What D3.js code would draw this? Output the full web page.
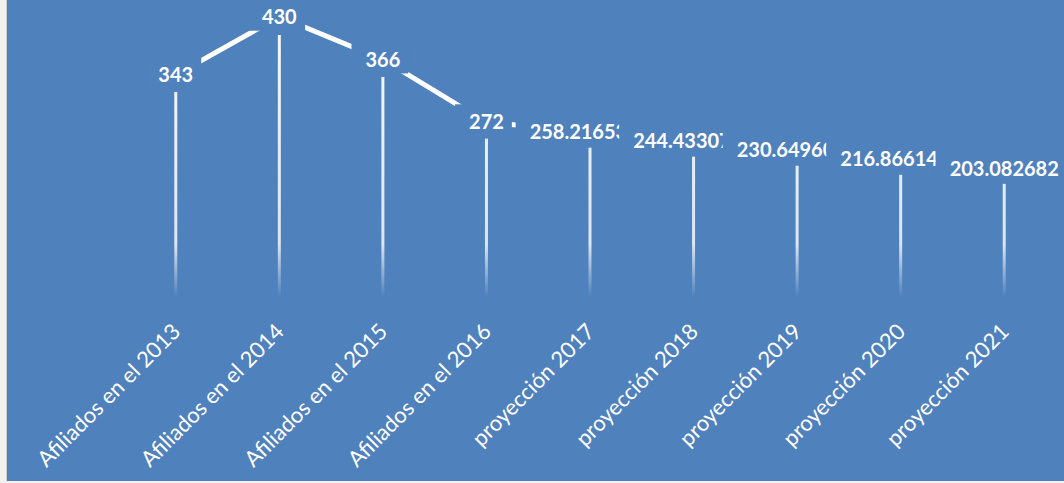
<!DOCTYPE html>
<html>
<head>
<meta charset="utf-8">
<script src="https://cdn.jsdelivr.net/npm/d3@7"></script>
<style>
  body { margin: 0; background: #f2f2f2; }
  svg { display: block; }
</style>
</head>
<body>
<div class="canvas"></div>
<script>
// data
const categories = [
  'Afiliados en el 2013', 'Afiliados en el 2014', 'Afiliados en el 2015', 'Afiliados en el 2016',
  'proyección 2017', 'proyección 2018', 'proyección 2019', 'proyección 2020', 'proyección 2021'
];
const afiliados = [343, 430, 366, 272, 258.2165364, 244.4330728, 230.6496092, 216.8661456, 203.082682];

// chart dimensions
const dims = { width: 1064, height: 483 };
const plot = { left: 124, right: 1056, top: 35, bottom: 317 };
const bg = '#4f81bd';

const svg = d3.select('.canvas')
  .append('svg')
  .attr('width', dims.width)
  .attr('height', dims.height);

// chart area with the light edge on the left
svg.append('rect')
  .attr('x', 6).attr('y', 0)
  .attr('width', dims.width - 6).attr('height', 481)
  .attr('fill', bg);
svg.append('line')
  .attr('x1', 6.5).attr('x2', 6.5).attr('y1', 0).attr('y2', 481)
  .attr('stroke', '#cfcfcf');

// scales
const x = d3.scaleBand()
  .domain(categories)
  .range([plot.left, plot.right]);

const y = d3.scaleLinear()
  .domain([0, 430])
  .range([plot.bottom, plot.top]);

// the line sits on its own (secondary) axis
const y2 = d3.scaleLinear()
  .domain([0, 455])
  .range([304, 0]);

const cx = d => x(d) + x.bandwidth() / 2;

// bar fade: white at the top, gone near the axis
const defs = svg.append('defs');
const grad = defs.append('linearGradient')
  .attr('id', 'barFade')
  .attr('gradientUnits', 'userSpaceOnUse')
  .attr('x1', 0).attr('x2', 0)
  .attr('y1', y(430)).attr('y2', y(0));
grad.append('stop').attr('offset', 0).attr('stop-color', '#fff').attr('stop-opacity', 0.95);
grad.append('stop').attr('offset', 0.74).attr('stop-color', '#fff').attr('stop-opacity', 0.8);
grad.append('stop').attr('offset', 0.93).attr('stop-color', '#fff').attr('stop-opacity', 0);

// bars
svg.append('g').selectAll('rect')
  .data(afiliados)
  .enter().append('rect')
    .attr('x', (d, i) => cx(categories[i]) - 1.5)
    .attr('width', 3)
    .attr('y', d => y(d))
    .attr('height', d => y(0) - y(d))
    .attr('fill', 'url(#barFade)');

// line through the values
const line = d3.line()
  .x((d, i) => cx(categories[i]))
  .y(d => y2(d));

svg.append('path')
  .datum(afiliados)
  .attr('d', line)
  .attr('fill', 'none')
  .attr('stroke', '#fff')
  .attr('stroke-width', 5);

// data labels with a filled box, each one drawn over the previous
const labels = svg.append('g');
afiliados.forEach((v, i) => {
  const g = labels.append('g');
  const box = g.append('rect').attr('fill', bg);
  const t = g.append('text')
    .attr('x', cx(categories[i]))
    .attr('y', y2(v))
    .attr('dy', '0.36em')
    .attr('text-anchor', 'middle')
    .attr('fill', '#fff')
    .attr('font-family', 'Lato, sans-serif')
    .attr('font-weight', 'bold')
    .attr('font-size', 20)
    .text(String(v));
  const b = t.node().getBBox();
  box.attr('x', b.x - 14)
    .attr('y', y2(v) - 18)
    .attr('width', b.width + 22)
    .attr('height', 32);
});

// category labels, rotated
svg.append('g').selectAll('text')
  .data(categories)
  .enter().append('text')
    .attr('transform', d => `translate(${cx(d) + 6}, 333) rotate(-45)`)
    .attr('text-anchor', 'end')
    .attr('fill', '#fff')
    .attr('font-family', 'Lato, sans-serif')
    .attr('font-size', 22)
    .text(d => d);
</script>
</body>
</html>
